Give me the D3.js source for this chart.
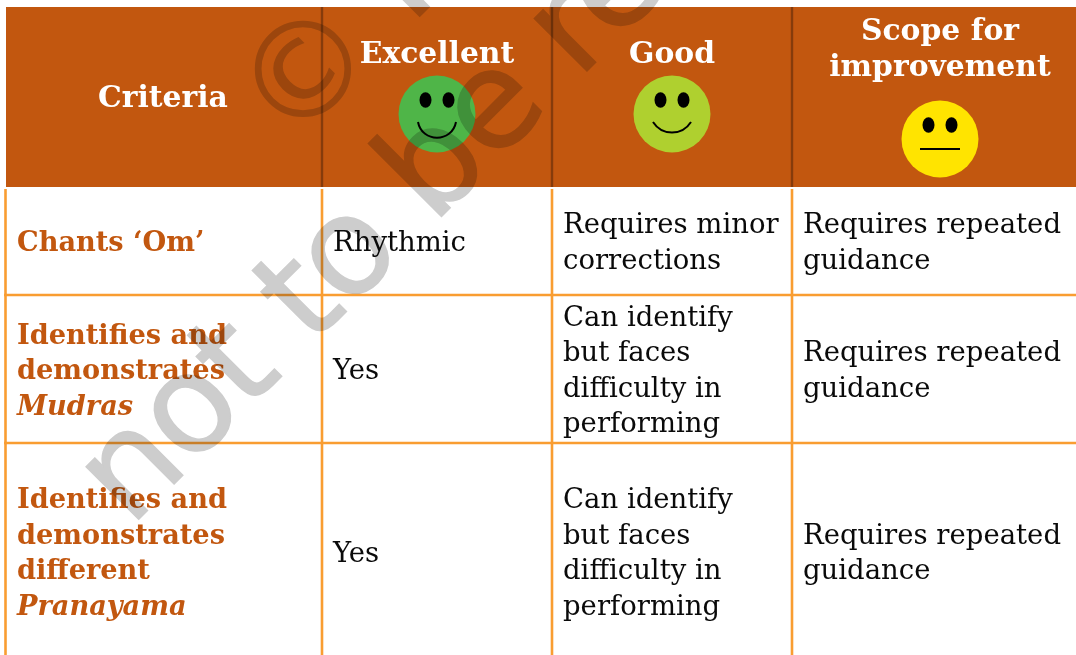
<!DOCTYPE html>
<html>
<head>
<meta charset="utf-8">
<script src="https://cdn.jsdelivr.net/npm/d3@7"></script>
<style>
  html, body { margin: 0; padding: 0; background: #fff; overflow: hidden; }
  svg { display: block; }
  text { font-family: "DejaVu Serif", serif; }
  .watermark { mix-blend-mode: multiply; }
</style>
</head>
<body>
<div id="chart"></div>
<script>
const columns = ['Criteria', 'Excellent', 'Good', 'Scope for improvement'];
const rows = ['header', 'om', 'mudras', 'pranayama'];

const headerLines = [['Criteria'], ['Excellent'], ['Good'], ['Scope for', 'improvement']];
const faces = [
  { column: 'Excellent', colour: '#4fb548', mood: 'big' },
  { column: 'Good', colour: '#afd02f', mood: 'small' },
  { column: 'Scope for improvement', colour: '#ffe400', mood: 'flat' }
];

// italic lines are marked with a leading underscore
const criteriaLines = [
  ['Chants ‘Om’'],
  ['Identifies and', 'demonstrates', '_Mudras'],
  ['Identifies and', 'demonstrates', 'different', '_Pranayama']
];
const excellentLines = [['Rhythmic'], ['Yes'], ['Yes']];
const goodLines = [
  ['Requires minor', 'corrections'],
  ['Can identify', 'but faces', 'difficulty in', 'performing'],
  ['Can identify', 'but faces', 'difficulty in', 'performing']
];
const scopeLines = [
  ['Requires repeated', 'guidance'],
  ['Requires repeated', 'guidance'],
  ['Requires repeated', 'guidance']
];

const width = 1076;
const height = 655;
const orange = '#c2570f';
const lineOrange = '#f99d31';
const lineGap = 35.5;

const x = d3.scaleOrdinal().domain(columns).range([6, 322, 552, 792]);
const y = d3.scaleOrdinal().domain(rows).range([7, 187, 295, 443]);
const rowEnd = d3.scaleOrdinal().domain(rows).range([187, 295, 443, 655]);
// text sits a little below the middle of the last row
const rowMid = d3.scaleOrdinal().domain(rows).range([97, 241, 369, 551.5]);

const svg = d3.select('#chart').append('svg')
  .attr('width', width)
  .attr('height', height);

// header band
svg.append('rect')
  .attr('x', x(columns[0]))
  .attr('y', y('header'))
  .attr('width', width - x(columns[0]))
  .attr('height', rowEnd('header') - y('header'))
  .attr('fill', orange);

const grid = svg.append('g').attr('class', 'grid');

// vertical rules, darker on the header band
columns.forEach((c, i) => {
  if (i > 0) {
    grid.append('line')
      .attr('x1', x(c)).attr('x2', x(c))
      .attr('y1', y('header')).attr('y2', rowEnd('header'))
      .attr('stroke', '#853b0b')
      .attr('stroke-width', 2.4);
  }
  const rx = i === 0 ? x(c) - 0.5 : x(c);
  grid.append('line')
    .attr('x1', rx).attr('x2', rx)
    .attr('y1', rowEnd('header') + 2).attr('y2', height)
    .attr('stroke', lineOrange)
    .attr('stroke-width', 2.6);
});
rows.slice(2).forEach((r) => {
  grid.append('line')
    .attr('x1', x(columns[0]) - 2).attr('x2', width)
    .attr('y1', y(r)).attr('y2', y(r))
    .attr('stroke', lineOrange)
    .attr('stroke-width', 2.6);
});

const drawLines = function(lines, cx, cy, opts) {
  const top = cy - (lines.length - 1) * lineGap / 2;
  lines.forEach((line, i) => {
    const italic = line[0] === '_';
    svg.append('text')
      .attr('x', cx)
      .attr('y', top + i * lineGap + 10)
      .attr('text-anchor', opts.anchor)
      .attr('font-size', opts.size)
      .attr('font-weight', opts.weight)
      .attr('font-style', italic ? 'italic' : 'normal')
      .attr('fill', opts.fill)
      .text(italic ? line.slice(1) : line);
  });
};

// header labels
const headerCentre = [163, 437, 672, 940];
const headerMid = [97, 53, 53, 48];
headerLines.forEach((lines, i) => {
  drawLines(lines, headerCentre[i], headerMid[i], { anchor: 'middle', size: 29.8, weight: 'bold', fill: '#fff' });
});

// smileys
const faceY = { big: 114, small: 114, flat: 139 };
const faceX = { big: 437, small: 672, flat: 940 };
faces.forEach((f) => {
  const g = svg.append('g').attr('transform', `translate(${faceX[f.mood]},${faceY[f.mood]})`);
  g.append('circle').attr('r', 38.5).attr('fill', f.colour);
  [-11.5, 11.5].forEach((dx) => {
    g.append('ellipse').attr('cx', dx).attr('cy', -14).attr('rx', 6).attr('ry', 7.7).attr('fill', '#000');
  });
  const mouth = f.mood === 'flat' ? 'M-20,10H20'
    : f.mood === 'big' ? 'M-19,8C-15,29 15,29 19,8'
    : 'M-19,8C-10,22 10,22 19,8';
  g.append('path').attr('d', mouth).attr('fill', 'none').attr('stroke', '#000').attr('stroke-width', 2);
});

// body cells
rows.slice(1).forEach((r, i) => {
  const cy = rowMid(r);
  const opts = { anchor: 'start', size: 27.5, weight: 'normal', fill: '#0a0a0a' };
  drawLines(criteriaLines[i], x(columns[0]) + 11, cy, { anchor: 'start', size: 27.2, weight: 'bold', fill: orange });
  drawLines(excellentLines[i], x(columns[1]) + 11, cy, opts);
  drawLines(goodLines[i], x(columns[2]) + 11, cy, opts);
  drawLines(scopeLines[i], x(columns[3]) + 11, cy, opts);
});

// watermark
const mark = svg.append('g').attr('class', 'watermark');
mark.append('text')
  .attr('transform', 'translate(130,528) rotate(-45)')
  .attr('font-size', 136)
  .attr('letter-spacing', -2.5)
  .attr('fill', '#cdcdcd')
  .attr('stroke', '#cdcdcd')
  .attr('stroke-width', 1.5)
  .style('font-family', '"DejaVu Sans", sans-serif')
  .text('not to be republished');
mark.append('text')
  .attr('transform', 'translate(290,150) rotate(-45)')
  .attr('font-size', 133)
  .attr('fill', '#cdcdcd')
  .style('font-family', '"DejaVu Sans", sans-serif')
  .text('©');
// foot of the letter after the ©, the rest is off the page
mark.append('line')
  .attr('x1', 425).attr('y1', 12)
  .attr('x2', 395).attr('y2', -18)
  .attr('stroke', '#cdcdcd')
  .attr('stroke-width', 15);
</script>
</body>
</html>
